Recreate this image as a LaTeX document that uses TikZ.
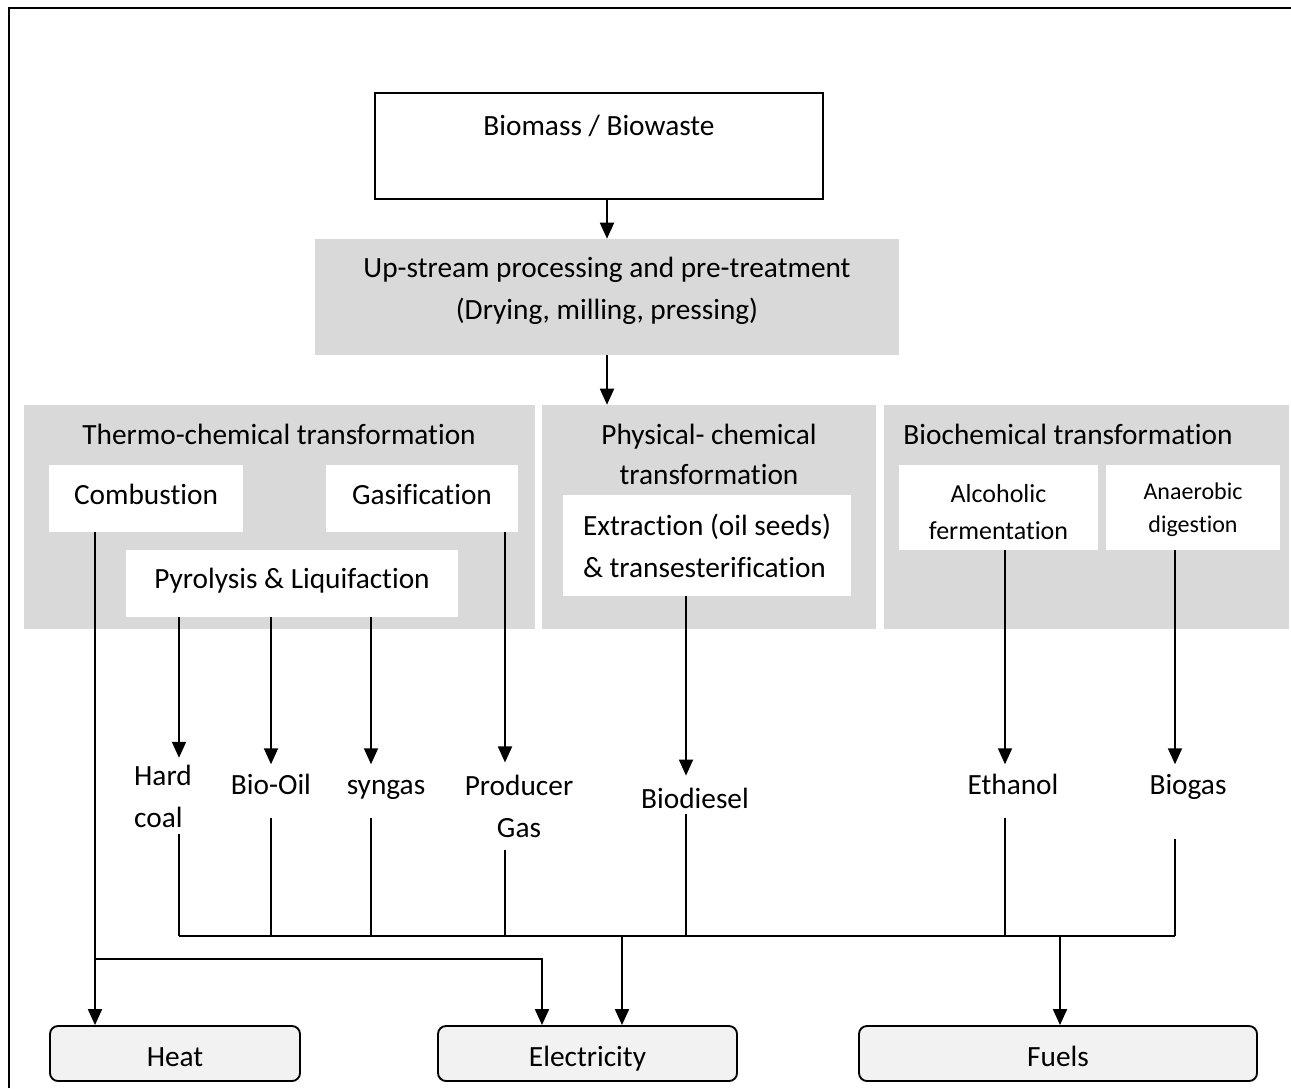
\documentclass[tikz,border=0pt]{standalone}
\usepackage{fontspec}
\setmainfont{Carlito}[Ligatures=NoCommon]
\usetikzlibrary{arrows.meta}
\definecolor{panelgray}{HTML}{D9D9D9}
\definecolor{outgray}{HTML}{F2F2F2}

% text set on its own baseline, lifted by #1, taking no vertical room
\newcommand{\onbase}[2]{\raisebox{#1}[0pt][0pt]{#2}}
% two centred lines, first baseline lifted by #1, taking no vertical room
\newcommand{\twolines}[3]{\raisebox{#1}[0pt][0pt]{\begin{tabular}[t]{@{}c@{}}#2\\#3\end{tabular}}}

\begin{document}
\begin{tikzpicture}[x=0.75pt,y=-0.75pt,
  every node/.style={font=\fontsize{22}{31.5}\selectfont, inner sep=0pt},
  panel/.style={fill=panelgray, minimum height=168pt},
  procbox/.style={fill=white, align=center},
  outbox/.style={draw, line width=1.4pt, fill=outgray, rounded corners=6pt, minimum height=41.25pt},
  product/.style={text height=0.72em, text depth=0.25em, inner ysep=15pt, inner xsep=2pt},
  arr/.style={line width=1.4pt, -{Triangle[length=12pt,width=10.5pt]}},
  link/.style={line width=0.9pt},
  bus/.style={line width=1.2pt},
]
\useasboundingbox (0,0) rectangle (1291,1088);
% outer frame (top and left edges)
\draw[line width=1.5pt] (8.5,1088) -- (8.5,8.5) -- (1291,8.5);

% source and pre-treatment
\node[draw, line width=1.1pt, minimum width=336pt, minimum height=79.5pt, align=center] (bio) at (599,146) {Biomass / Biowaste\\\mbox{}};
\node[fill=panelgray, minimum width=438pt, minimum height=87pt] (up) at (607,297) {\twolines{15pt}{Up-stream processing and pre-treatment}{(Drying, milling, pressing)}};

% transformation panels
\node[panel, minimum width=383.25pt] (thermo) at (279.5,517) {};
\node[panel, minimum width=250.5pt] (phys) at (709,517) {};
\node[panel, minimum width=303.75pt] (biochem) at (1086.5,517) {};
\node (thermoT) at (279,434) {Thermo-chemical transformation};
\node[align=center] (physT) at (709,454) {Physical- chemical\\[-1.5pt]transformation};
\node (biochemT) at (1068,434) {Biochemical transformation};

% processes
\node[procbox, minimum width=145.5pt, minimum height=50.25pt] (comb) at (146,498.5) {\onbase{-4.5pt}{Combustion}};
\node[procbox, minimum width=144pt, minimum height=50.25pt] (gasi) at (422,498.5) {\onbase{-4.5pt}{Gasification}};
\node[procbox, minimum width=249pt, minimum height=50.25pt] (pyro) at (292,583.5) {\onbase{-3.5pt}{Pyrolysis \& Liquifaction}};
\node[procbox, minimum width=216pt, minimum height=75.75pt, align=left] (extr) at (707,545.5) {Extraction (oil seeds)\\\& transesterification};
\node[procbox, minimum width=149.25pt, minimum height=63.75pt, font=\fontsize{19.5}{27.75}\selectfont] (alc) at (998.5,507.5) {\twolines{3.5pt}{Alcoholic}{fermentation}};
\node[procbox, minimum width=130.5pt, minimum height=63.75pt, font=\fontsize{18}{24.75}\selectfont] (ana) at (1193,507.5) {\twolines{6pt}{Anaerobic}{digestion}};

% products
\node[align=left, inner ysep=5pt] (hardcoal) at (163,796) {Hard\\coal};
\node[product] (bioil) at (271,791) {Bio-Oil};
\node[product] (syngas) at (386,791) {syngas};
\node[align=center, inner ysep=9pt] (producer) at (519,806) {Producer\\Gas};
\node[product, inner ysep=17pt] (biodiesel) at (695,805) {Biodiesel};
\node[product] (ethanol) at (1013,791) {Ethanol};
\node[product] (biogas) at (1188,791) {Biogas};

% end uses
\node[outbox, minimum width=187.5pt] (heat) at (175,1053.5) {\onbase{-9.5pt}{Heat}};
\node[outbox, minimum width=224.25pt] (elec) at (587.5,1053.5) {\onbase{-9.5pt}{Electricity}};
\node[outbox, minimum width=298.5pt] (fuels) at (1058,1053.5) {\onbase{-9.5pt}{Fuels}};

% connector columns and junctions
\coordinate (cHC) at (179,936);
\coordinate (cBO) at (271,936);
\coordinate (cSG) at (371,936);
\coordinate (cPG) at (505,936);
\coordinate (cBD) at (686,936);
\coordinate (cET) at (1005,936);
\coordinate (cBG) at (1175,936);
\coordinate (cEL) at (622,936);
\coordinate (cFU) at (1060,936);
\coordinate (cHT) at (95,959);
\coordinate (cEB) at (542,959);

\draw[arr] (bio.south -| up.north) -- (up.north);
\draw[arr] (up.south) -- (up.south |- phys.north);

\draw[arr] (comb.south -| cHT) -- (heat.north -| cHT);
\draw[arr] (cHT) -| (elec.north -| cEB);

\draw[arr] (pyro.south -| cHC) -- (hardcoal.north -| cHC);
\draw[arr] (pyro.south -| cBO) -- (bioil.north -| cBO);
\draw[arr] (pyro.south -| cSG) -- (syngas.north -| cSG);
\draw[arr] (gasi.south -| cPG) -- (producer.north -| cPG);
\draw[arr] (extr.south -| cBD) -- (biodiesel.north -| cBD);
\draw[arr] (alc.south -| cET) -- (ethanol.north -| cET);
\draw[arr] (ana.south -| cBG) -- (biogas.north -| cBG);

\draw[link] (hardcoal.south -| cHC) -- (cHC);
\draw[link] (bioil.south -| cBO) -- (cBO);
\draw[link] (syngas.south -| cSG) -- (cSG);
\draw[link] (producer.south -| cPG) -- (cPG);
\draw[link, shorten <=-15pt] (biodiesel.south -| cBD) -- (cBD);
\draw[link] (ethanol.south -| cET) -- (cET);
\draw[link, shorten <=16pt] (biogas.south -| cBG) -- (cBG);
\draw[bus] (cHC) -- (cBG);

\draw[arr] (cEL) -- (elec.north -| cEL);
\draw[arr] (cFU) -- (fuels.north -| cFU);
\end{tikzpicture}
\end{document}
